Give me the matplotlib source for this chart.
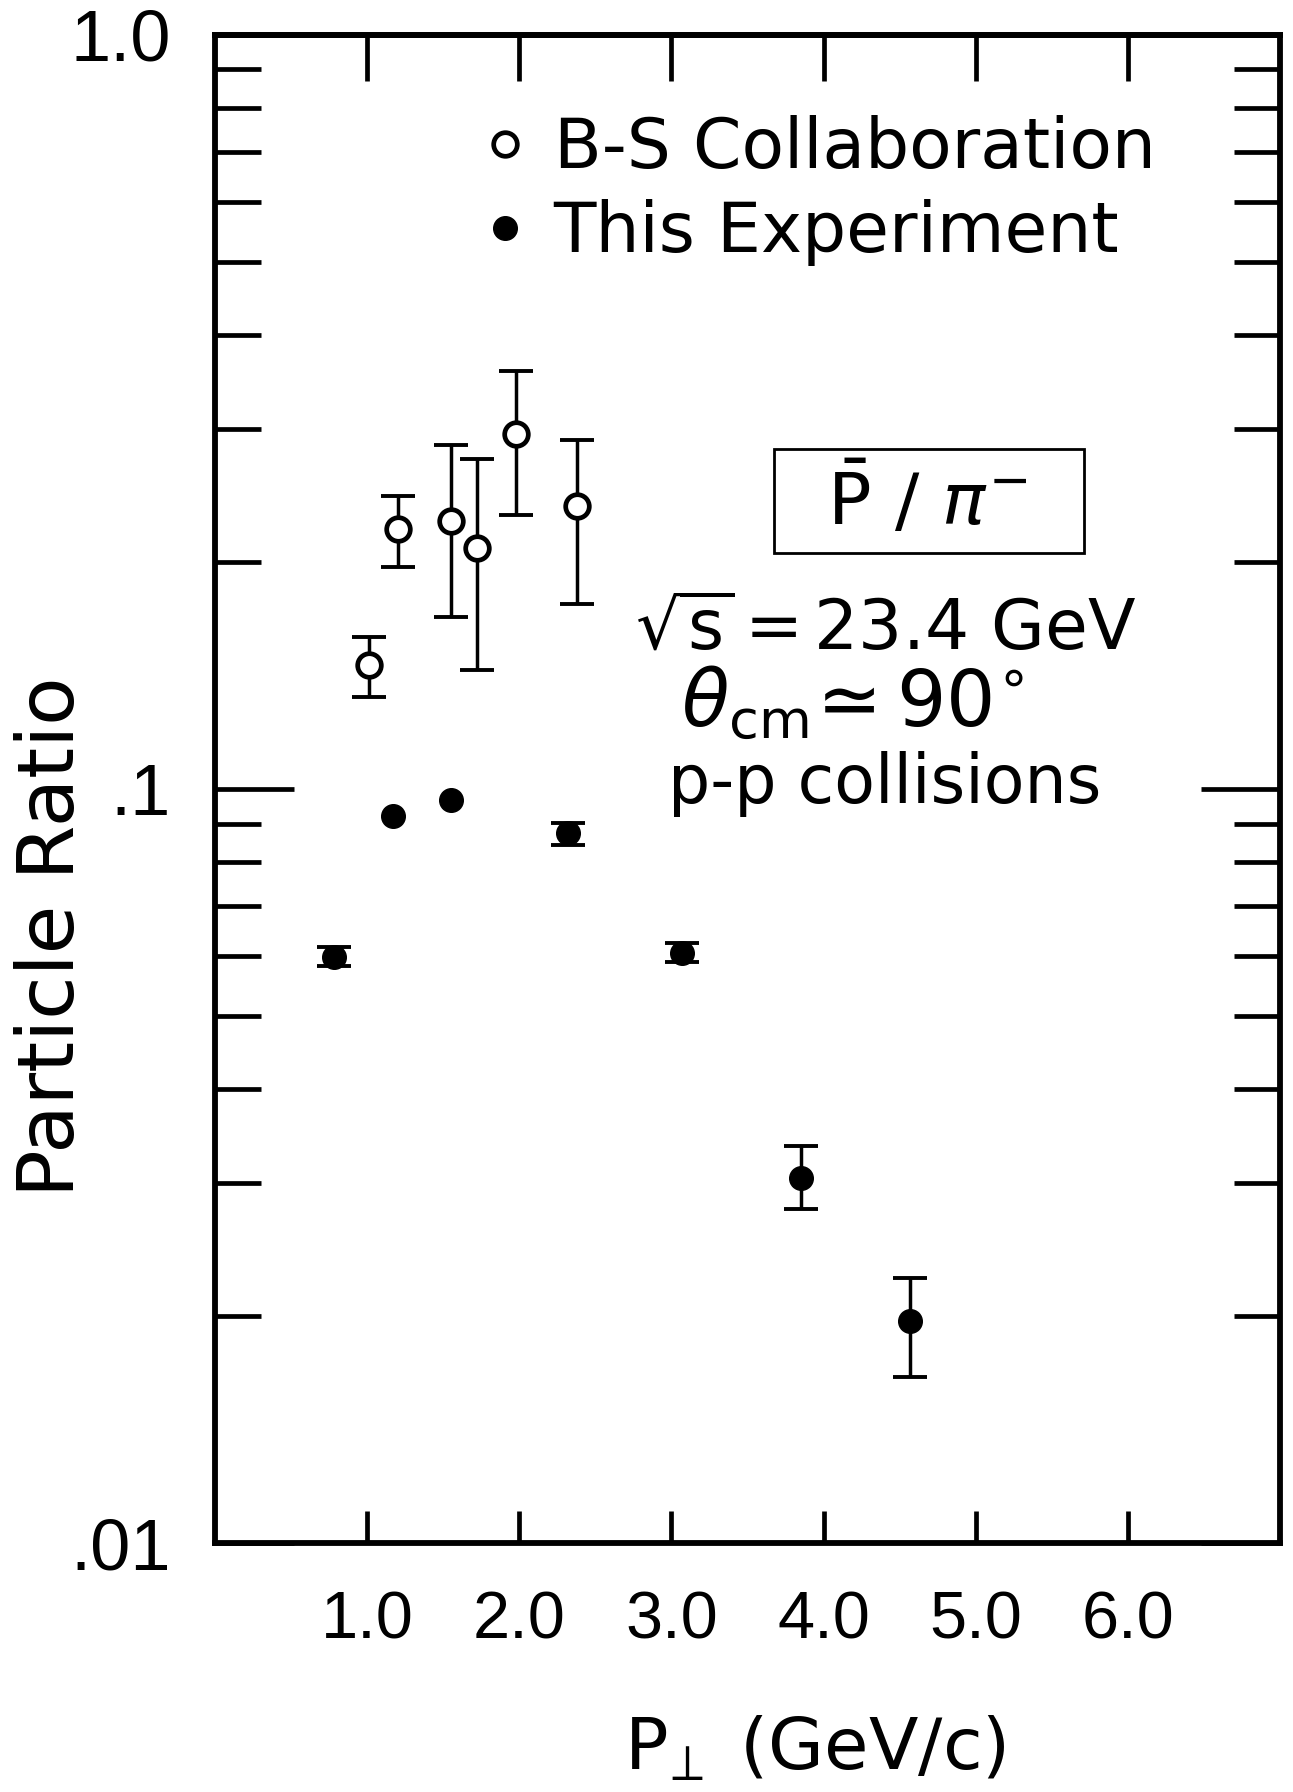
import matplotlib
matplotlib.use("Agg")
import matplotlib.pyplot as plt
from matplotlib.patches import Rectangle
import numpy as np

# B-S Collaboration (open circles)
bs_pt = [1.01, 1.20, 1.55, 1.72, 1.98, 2.38]
bs_ratio = [0.146, 0.221, 0.227, 0.209, 0.296, 0.237]
bs_hi = [0.159, 0.245, 0.286, 0.274, 0.358, 0.290]
bs_lo = [0.1325, 0.197, 0.169, 0.144, 0.231, 0.176]

# This experiment (filled circles), hi == lo == ratio means no visible error bar
exp_pt = [0.78, 1.17, 1.55, 2.32, 3.07, 3.85, 4.57]
exp_ratio = [0.0599, 0.0920, 0.0967, 0.0873, 0.0607, 0.0305, 0.0197]
exp_hi = [0.0617, 0.0920, 0.0967, 0.0902, 0.0625, 0.0336, 0.0225]
exp_lo = [0.0582, 0.0920, 0.0967, 0.0843, 0.0590, 0.0277, 0.0166]

x_ticks = [1, 2, 3, 4, 5, 6]
x_ticklabels = ["1.0", "2.0", "3.0", "4.0", "5.0", "6.0"]
y_ticks = [0.01, 0.1, 1.0]
y_ticklabels = [".01", ".1", "1.0"]

tickfont = ["Liberation Sans", "DejaVu Sans"]

fig = plt.figure(figsize=(12.93, 17.92), dpi=100)
ax = fig.add_axes([0.1663, 0.1389, 0.8237, 0.8416])

bs_ratio_np = np.array(bs_ratio)
bs_err = [bs_ratio_np - np.array(bs_lo), np.array(bs_hi) - bs_ratio_np]
ax.errorbar(bs_pt, bs_ratio, yerr=bs_err, fmt="none", ecolor="black",
            elinewidth=2.5, capsize=12, capthick=2.8, zorder=2)
ax.plot(bs_pt, bs_ratio, "o", ms=17, mfc="white", mec="black", mew=3.4,
        zorder=3, label="B-S Collaboration")

exp_ratio_np = np.array(exp_ratio)
exp_hi_np = np.array(exp_hi)
exp_lo_np = np.array(exp_lo)
has_err = exp_hi_np > exp_ratio_np
ax.errorbar(np.array(exp_pt)[has_err], exp_ratio_np[has_err],
            yerr=[exp_ratio_np[has_err] - exp_lo_np[has_err],
                  exp_hi_np[has_err] - exp_ratio_np[has_err]],
            fmt="none", ecolor="black", elinewidth=2.5, capsize=12,
            capthick=2.8, zorder=2)
ax.plot(exp_pt, exp_ratio, "o", ms=17, mfc="black", mec="black",
        zorder=3, label="This Experiment")

ax.set_yscale("log")
ax.set_xlim(0, 7)
ax.set_ylim(0.01, 1.0)

ax.set_xticks(x_ticks)
ax.set_xticklabels(x_ticklabels, family=tickfont, fontsize=48)
ax.set_yticks(y_ticks)
ax.set_yticklabels(y_ticklabels, family=tickfont, fontsize=52)

for s in ax.spines.values():
    s.set_linewidth(4.2)

ax.tick_params(axis="x", which="both", direction="in", length=23, width=3.4,
               pad=34, bottom=True, top=False)
ax.tick_params(axis="y", which="major", direction="in", length=57, width=3.4,
               pad=32, left=True, right=True)
ax.tick_params(axis="y", which="minor", direction="in", length=33, width=3.4,
               left=True, right=True, labelleft=False)

top = ax.secondary_xaxis("top")
top.set_xticks(x_ticks)
top.tick_params(direction="in", length=33, width=3.4, labeltop=False)
top.spines["top"].set_linewidth(4.2)

ax.set_ylabel("Particle Ratio", fontsize=57)
ax.yaxis.set_label_coords(-0.117, 0.402)
ax.set_xlabel(r"P$_{\!\perp}$ (GeV/c)", fontsize=52)
ax.xaxis.set_label_coords(0.563, -0.114)

ax.legend(loc="upper left", bbox_to_anchor=(0.256, 0.947), frameon=False,
          fontsize=50, handlelength=0.5, handletextpad=0.45, labelspacing=0.25,
          borderpad=0, borderaxespad=0, numpoints=1)

ax.add_patch(Rectangle((0.525, 0.6565), 0.291, 0.069, transform=ax.transAxes,
                       fill=False, lw=2.0, ec="black", zorder=4))
ax.text(0.669, 0.691, r"$\bar{\mathrm{P}}\ /\ \pi^{-}$", transform=ax.transAxes,
        ha="center", va="center", fontsize=52)
ax.text(0.630, 0.606, r"$\sqrt{\mathrm{s}}\,$=$\,$23.4 GeV",
        transform=ax.transAxes, ha="center", va="center", fontsize=50)
ax.text(0.598, 0.557, r"$\theta_{\mathrm{cm}}\!\simeq 90^{\circ}$",
        transform=ax.transAxes, ha="center", va="center", fontsize=56)
ax.text(0.629, 0.503, "p-p collisions", transform=ax.transAxes,
        ha="center", va="center", fontsize=48)

fig.savefig("out.png", dpi=100, facecolor="white")
